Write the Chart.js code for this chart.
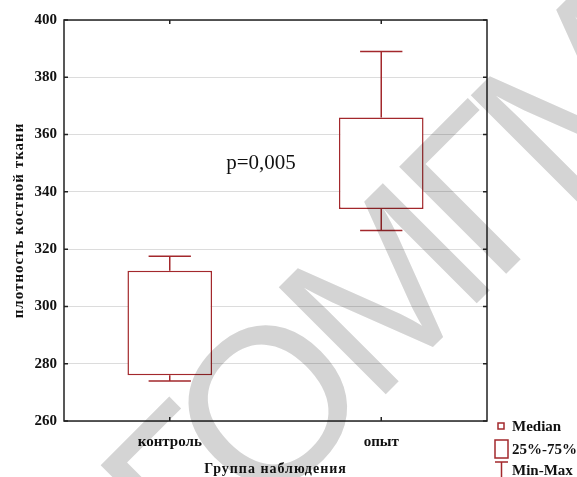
<!DOCTYPE html>
<html>
<head>
<meta charset="utf-8">
<script src="https://cdn.jsdelivr.net/npm/chart.js@4/dist/chart.umd.min.js"></script>
<style>
    html, body { margin: 0; padding: 0; background: #fff; }
    #wrap { position: relative; width: 577px; height: 477px; }
    .legend-text { position: absolute; font: bold 15px 'Liberation Serif', serif; color: #111; white-space: nowrap; line-height: 1; }
</style>
</head>
<body>
<div id="wrap">
    <canvas id="chart" width="577" height="477"></canvas>
    <div class="legend-text" style="left:512px; top:419px;">Median</div>
    <div class="legend-text" style="left:512px; top:442px;">25%-75%</div>
    <div class="legend-text" style="left:512px; top:463px;">Min-Max</div>
</div>
<script>
// Data
const groups = ['контроль', 'опыт'];
const mins = [274, 326.5];
const q1 = [276, 334];
const medians = [292, 348];
const q3 = [312.5, 366];
const maxs = [317.5, 389];
const yTicks = [260, 280, 300, 320, 340, 360, 380, 400];

const red = '#a3282c';
const serif = "'Liberation Serif', serif";

// Whiskers, frame, inward ticks, titles, annotation and watermark
const boxExtras = {
    id: 'boxExtras',
    afterDatasetsDraw(chart) {
        const ctx = chart.ctx;
        const x = chart.scales.x;
        const y = chart.scales.y;
        const bars = chart.getDatasetMeta(0).data;

        ctx.save();
        ctx.strokeStyle = red;
        ctx.lineWidth = 1.5;
        groups.forEach((g, i) => {
            const cx = x.getPixelForValue(i);
            const half = bars[i].width / 4;
            ctx.beginPath();
            ctx.moveTo(cx, y.getPixelForValue(q3[i]));
            ctx.lineTo(cx, y.getPixelForValue(maxs[i]));
            ctx.moveTo(cx - half, y.getPixelForValue(maxs[i]));
            ctx.lineTo(cx + half, y.getPixelForValue(maxs[i]));
            ctx.moveTo(cx, y.getPixelForValue(q1[i]));
            ctx.lineTo(cx, y.getPixelForValue(mins[i]));
            ctx.moveTo(cx - half, y.getPixelForValue(mins[i]));
            ctx.lineTo(cx + half, y.getPixelForValue(mins[i]));
            ctx.stroke();
        });
        ctx.restore();
    },
    afterDraw(chart) {
        const ctx = chart.ctx;
        const a = chart.chartArea;
        const x = chart.scales.x;
        const y = chart.scales.y;

        ctx.save();
        // frame
        ctx.strokeStyle = '#222';
        ctx.lineWidth = 1.5;
        ctx.strokeRect(a.left, a.top, a.right - a.left, a.bottom - a.top);
        // ticks pointing inside
        ctx.beginPath();
        yTicks.forEach(v => {
            const py = y.getPixelForValue(v);
            ctx.moveTo(a.left, py); ctx.lineTo(a.left + 4, py);
            ctx.moveTo(a.right, py); ctx.lineTo(a.right - 4, py);
        });
        groups.forEach((g, i) => {
            const px = x.getPixelForValue(i);
            ctx.moveTo(px, a.top); ctx.lineTo(px, a.top + 4);
            ctx.moveTo(px, a.bottom); ctx.lineTo(px, a.bottom - 4);
        });
        ctx.stroke();

        // axis titles (letter spaced)
        ctx.fillStyle = '#111';
        ctx.textAlign = 'center';
        ctx.textBaseline = 'middle';
        ctx.letterSpacing = '1px';
        ctx.font = 'bold 14px ' + serif;
        ctx.fillText('Группа наблюдения', (a.left + a.right) / 2, 469);
        ctx.save();
        ctx.translate(19, (a.top + a.bottom) / 2);
        ctx.rotate(-Math.PI / 2);
        ctx.font = 'bold 15px ' + serif;
        ctx.fillText('плотность костной ткани', 0, 0);
        ctx.restore();
        ctx.letterSpacing = '0px';

        // p value
        ctx.font = '21px ' + serif;
        ctx.fillText('p=0,005', 261, 163);

        // legend icons
        ctx.strokeStyle = red;
        ctx.lineWidth = 1.5;
        ctx.strokeRect(498, 423, 6, 6);
        ctx.strokeRect(495, 440, 13, 18);
        ctx.beginPath();
        ctx.moveTo(495, 462); ctx.lineTo(508, 462);
        ctx.moveTo(501.5, 462); ctx.lineTo(501.5, 477);
        ctx.stroke();

        // watermark
        ctx.globalCompositeOperation = 'multiply';
        ctx.fillStyle = '#d4d4d4';
        ctx.translate(195, 585);
        ctx.rotate(-45 * Math.PI / 180);
        ctx.letterSpacing = '-13px';
        ctx.font = "220px 'Liberation Sans', sans-serif";
        ctx.textAlign = 'left';
        ctx.textBaseline = 'alphabetic';
        ctx.fillText('ГОМГМУ', 0, 0);
        ctx.restore();
    }
};

new Chart(document.getElementById('chart'), {
    data: {
        labels: groups,
        datasets: [
            {
                type: 'bar',
                data: groups.map((g, i) => [q1[i], q3[i]]),
                backgroundColor: '#ffffff',
                borderColor: red,
                borderWidth: 1.5,
                borderSkipped: false,
                categoryPercentage: 1,
                barPercentage: 0.4
            },
            {
                type: 'line',
                data: medians,
                showLine: false,
                pointStyle: 'rect',
                pointRadius: 4.5,
                pointBackgroundColor: '#ffffff',
                pointBorderColor: red,
                pointBorderWidth: 1.5
            }
        ]
    },
    options: {
        responsive: false,
        animation: false,
        events: [],
        layout: { padding: { top: 20, right: 90, left: 0, bottom: 0 } },
        plugins: { legend: { display: false }, tooltip: { enabled: false } },
        scales: {
            x: {
                grid: { display: false, drawTicks: false },
                border: { display: false },
                ticks: { color: '#111', padding: 12, font: { family: serif, size: 15, weight: 'bold' } },
                afterFit: s => { s.height = 56; }
            },
            y: {
                min: 260,
                max: 400,
                afterBuildTicks: s => { s.ticks = yTicks.map(v => ({ value: v })); },
                grid: { color: '#dcdcdc', lineWidth: 1, drawTicks: false },
                border: { display: false },
                ticks: { color: '#111', padding: 7, font: { family: serif, size: 15, weight: 'bold' } },
                afterFit: s => { s.width = 64; }
            }
        }
    },
    plugins: [boxExtras]
});
</script>
</body>
</html>
